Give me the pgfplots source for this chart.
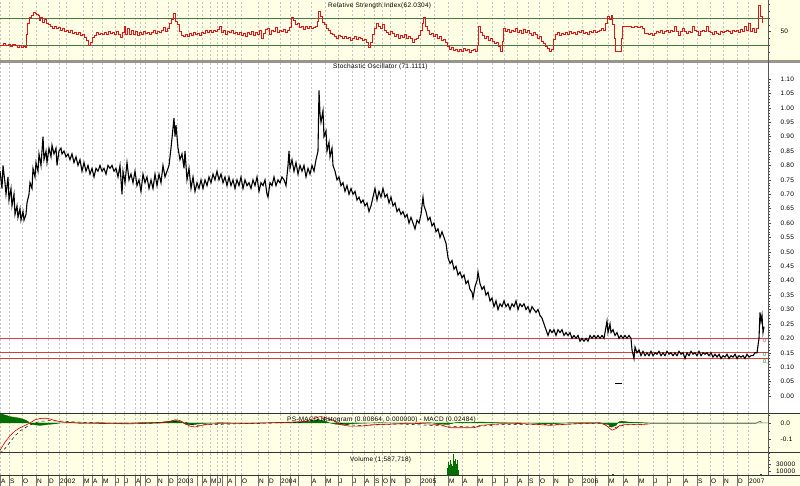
\documentclass[border=0pt]{standalone}
\usepackage{pgfplots}
\pgfplotsset{compat=1.18}
\usepackage{fontspec}
\setmainfont{Liberation Sans}
\newfontfamily\lblfont[LetterSpace=4]{Liberation Sans}
\newcommand\lf{\lblfont\fontsize{6.5}{7}\selectfont}
\definecolor{paleY}{RGB}{255,255,230}
\definecolor{sepgray}{RGB}{150,150,140}
\definecolor{rsigreen}{RGB}{70,120,70}
\definecolor{rsired}{RGB}{230,20,20}
\definecolor{macdgreen}{RGB}{0,110,0}
\definecolor{gridc}{RGB}{195,195,195}
\definecolor{hlred}{RGB}{220,60,60}
\pgfplotsset{
 panel/.style={scale only axis, width=768pt, xmin=0, xmax=768,
  axis line style={draw=none},
  xtick={0,9,22,36,48,59,66,83,92,102,115,124,135,140,145,157,168,177,188,197,202,210,217,222,227,235,241,258,268,280,290,298,311,325,338,352,364,374,382,390,405,420,434,448,462,477,492,504,517,528,539,553,568,582,595,608,623,638,653,667,683,697,710,723,737,748},
  xticklabels={}, major x tick style={draw=none},
  xmajorgrids, major x grid style={gridc, dash pattern=on 2pt off 2pt, line width=0.5pt},
  ytick pos=right, yticklabel pos=right, tick align=outside,
  major tick length=3pt, minor tick length=2pt,
  every y tick/.style={black!70, line width=0.4pt},
  yticklabel style={font=\lf},
  /pgf/number format/assume math mode=true},
}
\begin{document}
\begin{tikzpicture}[x=1pt,y=1pt]
\path[use as bounding box] (0,0) rectangle (800,486);
\fill[paleY] (0,0) rectangle (800,486);
\fill[white] (0,73) rectangle (800,423);
\fill[sepgray] (0,423) rectangle (800,426);

% RSI
\begin{axis}[panel, at={(0pt,426pt)}, anchor=south west, height=60pt,
 ymin=7.8, ymax=96.67, ytick={50}, minor ytick={20,30,40,60,70,80,90},
 yticklabel style={xshift=6pt}]
\addplot[rsigreen, line width=0.8pt] coordinates {(0,70) (768,70)};
\addplot[rsigreen, line width=0.8pt] coordinates {(0,30) (768,30)};
\addplot[rsired, line width=1pt, const plot] coordinates {
(0,30) (3,32) (5,29) (8,31) (10,28) (12,31) (15,30) (17,27) (19,29) (21,26) (23,28) (25,27) (26,45) (27,62) (29,70) (31,74) (33,78) (35,77) (36,75) (38,73) (39,66) (40,70) (42,64) (44,68) (46,62) (48,60) (50,58) (52,55) (54,57) (56,54) (58,56) (60,52) (62,54) (64,50) (66,52) (68,49) (70,51) (72,47) (74,49) (76,46) (78,48) (80,44) (82,45) (84,41) (86,37) (88,30) (90,34) (92,41) (94,44) (96,48) (98,45) (100,47) (102,45) (104,48) (106,46) (108,50) (110,47) (112,49) (114,46) (116,50) (118,46) (120,41) (122,49) (124,57) (125,45) (127,55) (129,46) (131,52) (133,45) (135,50) (137,44) (139,48) (141,46) (143,50) (145,47) (147,49) (149,45) (151,48) (153,51) (155,47) (157,50) (159,48) (161,52) (163,56) (165,50) (167,55) (169,62) (171,68) (173,77) (175,65) (177,60) (179,50) (181,44) (183,43) (185,46) (187,42) (189,47) (191,44) (193,48) (195,45) (197,47) (199,44) (201,49) (203,47) (205,51) (207,48) (209,52) (211,49) (213,52) (215,50) (217,53) (219,57) (221,48) (223,52) (225,46) (227,50) (229,48) (231,51) (233,47) (235,49) (237,45) (239,48) (241,44) (243,47) (245,43) (247,48) (249,45) (251,50) (253,44) (255,49) (257,46) (259,52) (261,40) (263,47) (265,53) (267,55) (269,45) (271,52) (273,50) (275,56) (277,48) (279,52) (281,50) (283,53) (285,49) (287,52) (289,56) (291,70) (293,66) (295,60) (297,62) (299,56) (301,58) (303,53) (305,58) (307,55) (309,57) (311,54) (313,56) (315,58) (317,65) (318,79) (320,72) (322,64) (324,60) (326,55) (328,51) (330,47) (332,45) (334,42) (336,40) (338,44) (340,42) (342,40) (344,43) (346,39) (348,41) (350,37) (352,40) (354,42) (356,38) (358,41) (360,39) (362,36) (364,38) (366,34) (368,27) (370,34) (372,45) (374,55) (376,62) (378,58) (380,55) (382,60) (384,51) (386,48) (388,45) (390,50) (392,47) (394,42) (396,45) (398,40) (400,44) (402,41) (404,45) (406,39) (408,43) (410,40) (412,34) (414,38) (416,40) (418,44) (420,52) (422,62) (423,70) (425,58) (427,52) (429,45) (431,47) (433,43) (435,46) (437,40) (439,42) (441,36) (443,38) (445,34) (447,28) (449,24) (451,26) (453,22) (455,24) (457,20) (459,23) (461,21) (463,25) (465,22) (467,24) (469,19) (471,22) (473,24) (475,21) (477,30) (478,57) (480,48) (482,44) (484,40) (486,42) (488,37) (490,40) (492,35) (494,32) (496,34) (498,28) (500,20) (502,35) (503,55) (505,50) (507,53) (509,49) (511,52) (513,50) (515,54) (517,48) (519,51) (521,47) (523,53) (525,49) (527,52) (529,47) (531,44) (533,49) (535,45) (537,40) (539,42) (541,35) (543,32) (545,28) (547,25) (549,20) (551,24) (553,38) (555,45) (557,48) (559,44) (561,47) (563,45) (565,49) (567,46) (569,50) (571,47) (573,49) (575,46) (577,50) (579,48) (581,51) (583,47) (585,49) (587,46) (589,50) (591,48) (593,51) (595,49) (597,50) (599,52) (601,55) (603,52) (605,62) (607,72) (609,68) (611,74) (612,60) (614,40) (615,20) (618,20) (620,20) (621,40) (622,57) (625,57) (628,57) (631,56) (634,57) (637,56) (640,57) (642,55) (644,47) (646,47) (648,45) (650,47) (652,44) (654,47) (656,50) (658,48) (660,51) (662,47) (664,50) (666,52) (668,48) (670,51) (672,50) (674,58) (676,50) (678,44) (680,50) (682,55) (684,50) (686,47) (688,50) (690,48) (692,58) (694,51) (696,50) (698,44) (700,50) (702,52) (704,50) (706,57) (708,50) (710,49) (712,45) (714,50) (716,47) (718,45) (720,50) (722,48) (724,50) (726,51) (728,50) (730,47) (732,52) (734,50) (736,52) (738,49) (740,53) (742,50) (744,57) (746,52) (748,62) (750,50) (752,55) (754,48) (756,55) (758,89) (760,72) (762,62)};
\end{axis}

% Price / Stochastic panel
\begin{axis}[panel, at={(0pt,73pt)}, anchor=south west, height=350pt,
 ymin=-0.059, ymax=1.1555,
 ytick={0,0.05,0.1,0.15,0.2,0.25,0.3,0.35,0.4,0.45,0.5,0.55,0.6,0.65,0.7,0.75,0.8,0.85,0.9,0.95,1.0,1.05,1.1},
 minor y tick num=4,
 yticklabel style={xshift=6pt, /pgf/number format/.cd, fixed, fixed zerofill, precision=2}]
\addplot[hlred, line width=0.6pt] coordinates {(0,0.20) (768,0.20)};
\addplot[hlred, line width=0.6pt] coordinates {(0,0.15) (768,0.15)};
\addplot[hlred, line width=0.6pt] coordinates {(0,0.13) (768,0.13)};
\addplot[black, line width=1.1pt] coordinates {
(0,0.78) (2,0.72) (3,0.80) (5,0.74) (6,0.70) (8,0.76) (9,0.68) (11,0.72) (12,0.66) (14,0.70) (15,0.63) (17,0.66) (18,0.62) (20,0.65) (21,0.61) (23,0.64) (24,0.61) (26,0.63) (27,0.67) (29,0.70) (30,0.74) (32,0.72) (33,0.79) (35,0.76) (36,0.81) (38,0.78) (39,0.84) (41,0.80) (43,0.90) (44,0.82) (46,0.85) (47,0.81) (49,0.86) (51,0.83) (52,0.87) (54,0.84) (56,0.86) (57,0.80) (59,0.85) (61,0.86) (62,0.84) (64,0.85) (66,0.83) (68,0.84) (70,0.82) (72,0.84) (74,0.81) (76,0.83) (78,0.80) (80,0.82) (82,0.78) (84,0.81) (86,0.78) (88,0.80) (90,0.77) (92,0.79) (94,0.76) (96,0.79) (98,0.78) (100,0.80) (102,0.78) (104,0.79) (106,0.77) (108,0.80) (110,0.79) (112,0.80) (114,0.78) (116,0.79) (118,0.76) (120,0.80) (122,0.70) (123,0.78) (125,0.74) (127,0.81) (129,0.75) (131,0.77) (133,0.74) (135,0.78) (137,0.73) (139,0.75) (141,0.71) (143,0.77) (145,0.74) (147,0.76) (149,0.72) (151,0.75) (153,0.72) (155,0.77) (157,0.73) (159,0.77) (161,0.74) (163,0.80) (165,0.76) (167,0.78) (169,0.80) (171,0.86) (173,0.93) (174,0.965) (175,0.90) (176,0.94) (178,0.86) (180,0.82) (182,0.84) (184,0.79) (185,0.85) (187,0.75) (189,0.79) (191,0.72) (193,0.76) (195,0.71) (197,0.74) (199,0.72) (201,0.75) (203,0.72) (205,0.75) (207,0.73) (209,0.76) (211,0.74) (213,0.77) (215,0.75) (217,0.78) (219,0.75) (221,0.77) (223,0.74) (225,0.76) (227,0.73) (229,0.76) (231,0.73) (233,0.75) (235,0.72) (237,0.75) (239,0.73) (241,0.76) (243,0.72) (245,0.75) (247,0.73) (249,0.74) (251,0.72) (253,0.75) (255,0.73) (257,0.76) (259,0.71) (261,0.74) (263,0.73) (265,0.75) (267,0.70) (268,0.69) (270,0.74) (272,0.73) (274,0.76) (276,0.73) (278,0.75) (280,0.74) (282,0.76) (284,0.75) (286,0.73) (288,0.80) (289,0.85) (290,0.79) (292,0.82) (294,0.78) (296,0.81) (298,0.77) (300,0.80) (302,0.78) (304,0.80) (306,0.76) (308,0.79) (310,0.77) (312,0.80) (314,0.78) (316,0.82) (318,0.85) (319,1.06) (320,0.98) (321,0.95) (323,0.99) (324,0.90) (326,0.92) (327,0.85) (329,0.88) (330,0.83) (332,0.86) (333,0.80) (335,0.78) (337,0.75) (339,0.76) (341,0.73) (343,0.74) (345,0.71) (347,0.73) (349,0.70) (351,0.72) (353,0.70) (355,0.71) (357,0.68) (359,0.69) (361,0.67) (363,0.68) (365,0.66) (367,0.67) (369,0.64) (371,0.66) (373,0.69) (375,0.72) (377,0.68) (379,0.71) (381,0.69) (383,0.72) (385,0.69) (387,0.70) (389,0.67) (391,0.69) (393,0.66) (395,0.67) (397,0.64) (399,0.65) (401,0.63) (403,0.64) (405,0.62) (407,0.63) (409,0.60) (411,0.62) (413,0.60) (415,0.58) (417,0.61) (419,0.60) (421,0.63) (423,0.69) (424,0.66) (426,0.64) (428,0.61) (430,0.62) (432,0.59) (434,0.60) (436,0.57) (438,0.58) (440,0.55) (442,0.57) (444,0.55) (446,0.53) (448,0.48) (450,0.46) (452,0.47) (454,0.44) (456,0.45) (458,0.42) (460,0.43) (462,0.41) (464,0.42) (466,0.39) (468,0.40) (470,0.37) (472,0.36) (473,0.34) (475,0.38) (477,0.40) (478,0.43) (480,0.39) (482,0.37) (484,0.38) (486,0.35) (488,0.36) (490,0.33) (492,0.34) (494,0.31) (496,0.33) (498,0.30) (500,0.32) (502,0.31) (504,0.33) (506,0.31) (508,0.32) (510,0.30) (512,0.32) (514,0.31) (516,0.33) (518,0.30) (520,0.32) (522,0.31) (524,0.32) (526,0.30) (528,0.31) (530,0.29) (532,0.31) (534,0.30) (536,0.29) (538,0.30) (540,0.28) (542,0.27) (544,0.25) (546,0.23) (548,0.21) (550,0.23) (552,0.22) (554,0.23) (556,0.21) (558,0.23) (560,0.22) (562,0.23) (564,0.21) (566,0.22) (568,0.21) (570,0.22) (572,0.20) (574,0.21) (576,0.20) (578,0.21) (580,0.19) (582,0.20) (584,0.19) (586,0.20) (588,0.19) (590,0.21) (592,0.20) (594,0.21) (596,0.20) (598,0.21) (600,0.20) (602,0.21) (604,0.20) (606,0.24) (607,0.26) (608,0.22) (610,0.25) (611,0.22) (613,0.23) (615,0.21) (617,0.22) (619,0.20) (621,0.21) (623,0.20) (625,0.21) (627,0.20) (629,0.21) (631,0.20) (632,0.16) (634,0.13) (635,0.17) (637,0.15) (639,0.16) (641,0.14) (643,0.155) (645,0.14) (647,0.15) (649,0.14) (651,0.155) (653,0.14) (655,0.15) (657,0.145) (659,0.155) (661,0.14) (663,0.15) (665,0.14) (667,0.155) (669,0.145) (671,0.15) (673,0.14) (675,0.15) (677,0.14) (679,0.155) (681,0.145) (683,0.15) (685,0.13) (687,0.15) (689,0.14) (691,0.155) (693,0.145) (695,0.15) (697,0.14) (699,0.155) (701,0.14) (703,0.15) (705,0.145) (707,0.15) (709,0.14) (711,0.15) (713,0.135) (715,0.145) (717,0.135) (719,0.145) (721,0.13) (723,0.14) (725,0.135) (727,0.145) (729,0.13) (731,0.14) (733,0.135) (735,0.145) (737,0.13) (739,0.14) (741,0.135) (743,0.14) (745,0.13) (747,0.145) (749,0.135) (751,0.14) (753,0.14) (755,0.15) (757,0.15) (759,0.20) (760,0.29) (761,0.26) (762,0.28) (763,0.22) (764,0.24)};
\addplot[black, line width=0.8pt] coordinates {(615,0.045) (622,0.045)};
\end{axis}

% MACD
\begin{axis}[panel, at={(0pt,34pt)}, anchor=south west, height=39pt,
 ymin=-0.18125, ymax=0.0625, ytick={-0.1,0}, yticklabels={-0.1,0.0},
 minor ytick={-0.15,-0.05,0.05}, yticklabel style={xshift=6pt}]
\addplot[fill=macdgreen, draw=macdgreen, line width=0.3pt] coordinates {
(0,0.06) (5,0.05) (10,0.04) (15,0.035) (20,0.03) (25,0.02) (28,0.01) (30,-0.005) (35,-0.012) (40,-0.015) (45,-0.012) (50,-0.008) (55,-0.005) (60,0) (70,0.003) (80,-0.002) (100,0.002) (120,-0.003) (140,0.002) (160,0.004) (170,0.012) (176,0.016) (182,0.004) (186,-0.01) (192,-0.012) (200,-0.004) (220,0.002) (250,-0.002) (280,0.002) (300,0.006) (312,0.012) (318,0.02) (324,0.015) (330,0) (336,-0.008) (345,-0.01) (355,-0.003) (380,0.002) (400,-0.002) (430,0.002) (440,-0.006) (448,-0.01) (455,0.002) (462,0.005) (470,0.003) (480,0.006) (490,0.004) (500,0.002) (530,0) (545,-0.006) (555,-0.004) (570,0.002) (600,0.002) (608,-0.01) (612,-0.025) (616,-0.015) (619,0.008) (622,0.012) (628,0.006) (640,0.003) (650,0) (768,0)} \closedcycle;
\addplot[black, dashed, line width=0.5pt] coordinates {
(0,-0.19) (5,-0.16) (10,-0.12) (15,-0.08) (20,-0.05) (25,-0.03) (30,-0.012) (35,0) (40,0.01) (50,0.015) (60,0.012) (80,0.005) (100,0) (150,-0.002) (175,0.01) (185,0.005) (195,-0.015) (210,-0.01) (250,-0.003) (300,0.004) (320,0.025) (330,0.02) (345,-0.01) (360,-0.015) (400,-0.006) (450,-0.02) (470,-0.025) (500,-0.01) (550,-0.01) (600,-0.002) (614,-0.03) (625,-0.012) (650,-0.005)};
\addplot[red!85!black, line width=0.6pt] coordinates {
(0,-0.17) (5,-0.12) (10,-0.08) (15,-0.05) (20,-0.03) (25,-0.015) (30,0) (35,0.02) (40,0.028) (45,0.03) (50,0.025) (55,0.015) (60,0.008) (70,0.003) (80,0) (100,-0.003) (130,-0.005) (160,0) (170,0.01) (175,0.02) (180,0.015) (190,-0.02) (195,-0.025) (205,-0.01) (220,-0.002) (250,-0.002) (290,0.005) (305,0.01) (315,0.03) (320,0.04) (325,0.035) (332,0.02) (340,-0.01) (350,-0.02) (360,-0.02) (375,-0.01) (400,-0.005) (420,-0.003) (440,-0.01) (450,-0.03) (460,-0.03) (470,-0.03) (475,-0.028) (480,-0.015) (490,-0.01) (500,-0.005) (520,-0.003) (540,-0.01) (550,-0.015) (560,-0.01) (580,-0.003) (600,0) (605,-0.01) (612,-0.045) (616,-0.035) (620,-0.015) (625,-0.01) (640,-0.01) (650,-0.005)};
\addplot[black!70, line width=0.5pt] coordinates {(650,-0.002) (756,-0.002) (758,0.006) (760,0.01) (762,0.004)};
\end{axis}

% Volume
\begin{axis}[panel, at={(0pt,11pt)}, anchor=south west, height=23pt,
 ymin=0, ymax=63000, ytick={10000,30000}, yticklabels={10000,30000},
 yticklabel style={xshift=1.5pt},
 scaled y ticks=false, minor ytick={20000,40000,50000,60000}]
\addplot[ycomb, macdgreen, line width=1pt] coordinates {
(447,20000) (448,35000) (449,28000) (450,40000) (451,30000) (452,25000) (453,58000) (454,38000) (455,45000) (456,30000) (457,42000) (458,15000) (612,2000) (613,3000) (760,2500) (761,1500)};
\addplot[macdgreen!70, line width=0.5pt] coordinates {(540,300) (700,300)};
\end{axis}

% date strip
\begin{axis}[scale only axis, width=768pt, height=11pt, at={(0pt,0pt)}, anchor=south west,
 xmin=0, xmax=768, ymin=0, ymax=1, axis line style={draw=none}, ytick=\empty,
 xtick={0,9,22,36,48,59,66,83,92,102,115,124,135,140,145,157,168,177,188,197,202,210,217,222,227,235,241,258,268,280,290,298,311,325,338,352,364,374,382,390,405,420,434,448,462,477,492,504,517,528,539,553,568,582,595,608,623,638,653,667,683,697,710,723,737,748},
 xticklabels={A,S,O,N,D,2002,,M,A,M,J,J,A,,O,N,D,2003,,,A,M,J,,A,,O,N,D,2004,,,A,M,J,J,A,S,O,N,D,2005,,M,A,M,J,J,A,S,O,N,D,2006,,M,A,M,J,J,A,S,O,N,D,2007},
 major x tick style={draw=none}, xmajorgrids, major x grid style={black!55, line width=0.5pt},
 xticklabel style={anchor=south west, inner sep=1pt, yshift=1.5pt, font=\lf}]
\addplot[draw=none] coordinates {(0,0) (768,1)};
\end{axis}

% separators
\draw[black!80, line width=0.6pt] (0,73) -- (800,73);
\draw[black!80, line width=0.6pt] (0,34) -- (800,34);
\draw[black!80, line width=0.6pt] (0,11) -- (800,11);
\draw[black!65, line width=0.5pt] (768,11) -- (768,486);

% titles
\node[font=\lf, anchor=west, inner sep=0] at (328,480) {Relative Strength Index(62.0304)};
\node[font=\lf, anchor=west, inner sep=0] at (333,419) {Stochastic Oscillator (71.1111)};
\node[font=\lf, anchor=west, inner sep=0] at (287,66) {PS-MACD Histogram (0.00864, 0.000000) - MACD (0.02484)};
\node[font=\lf, anchor=west, inner sep=0] at (350,26) {Volume (1,587,718)};
\node[font=\lblfont\fontsize{5.5}{6}\selectfont, text=hlred, anchor=west, inner sep=0] at (763,145) {0};
\node[font=\lblfont\fontsize{5.5}{6}\selectfont, text=green!55!black, anchor=west, inner sep=0] at (763,131) {0};
\node[font=\lblfont\fontsize{5.5}{6}\selectfont, text=green!55!black, anchor=west, inner sep=0] at (763,124) {0,};
\end{tikzpicture}
\end{document}
